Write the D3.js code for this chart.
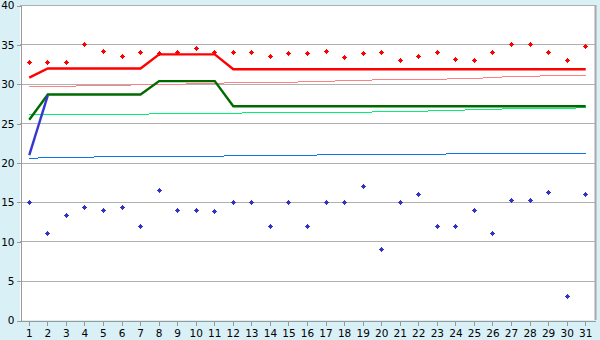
<!DOCTYPE html>
<html>
<head>
<meta charset="utf-8">
<script src="https://cdn.jsdelivr.net/npm/d3@7"></script>
<style>
    body { margin: 0; background: #d9f0f7; }
    svg { display: block; }
    .tick text { font-family: "DejaVu Sans", sans-serif; font-size: 10.5px; fill: #000; }
</style>
</head>
<body>
<div id="chart"></div>
<script>

/*
DATA
*/
const days = d3.range(1, 32);
const yTicks = [0, 5, 10, 15, 20, 25, 30, 35, 40];

// red points (top)
const highPoints = [32.8, 32.8, 32.8, 35.0, 34.2, 33.5, 34.0, 33.9, 34.0, 34.5,
    34.0, 34.0, 34.0, 33.5, 33.9, 33.9, 34.2, 33.4, 33.9, 34.0,
    33.0, 33.5, 34.0, 33.1, 33.0, 34.0, 35.0, 35.0, 34.0, 33.0, 34.8];

// blue points (bottom)
const lowPoints = [15.0, 11.0, 13.3, 14.4, 14.0, 14.4, 12.0, 16.5, 14.0, 14.0,
    13.9, 15.0, 15.0, 12.0, 15.0, 12.0, 15.0, 15.0, 17.0, 9.0,
    15.0, 16.0, 12.0, 12.0, 14.0, 11.0, 15.2, 15.2, 16.3, 3.0, 16.0];

// thick red line
const redLine = [30.85, 32.0, 32.0, 32.0, 32.0, 32.0, 32.0, 33.8, 33.8, 33.8,
    33.8, 31.9, 31.9, 31.9, 31.9, 31.9, 31.9, 31.9, 31.9, 31.9,
    31.9, 31.9, 31.9, 31.9, 31.9, 31.9, 31.9, 31.9, 31.9, 31.9, 31.9];

// thick green line
const greenLine = [25.5, 28.7, 28.7, 28.7, 28.7, 28.7, 28.7, 30.4, 30.4, 30.4,
    30.4, 27.2, 27.2, 27.2, 27.2, 27.2, 27.2, 27.2, 27.2, 27.2,
    27.2, 27.2, 27.2, 27.2, 27.2, 27.2, 27.2, 27.2, 27.2, 27.2, 27.2];

// thick blue line (first two days only)
const blueLine = [21.0, 28.6];

// thin lines
const pinkThin = [29.71, 29.71, 29.71, 29.84, 29.84, 29.84, 29.97, 29.97, 29.97, 30.1,
    30.1, 30.22, 30.22, 30.22, 30.22, 30.35, 30.35, 30.48, 30.48, 30.6,
    30.6, 30.6, 30.6, 30.73, 30.73, 30.86, 30.98, 30.98, 31.11, 31.11, 31.11];

const greenThin = [26.16, 26.16, 26.16, 26.16, 26.16, 26.16, 26.16, 26.29, 26.29, 26.29,
    26.29, 26.29, 26.41, 26.41, 26.41, 26.41, 26.41, 26.41, 26.41, 26.54,
    26.54, 26.54, 26.67, 26.67, 26.79, 26.79, 26.92, 26.92, 26.92, 26.92, 27.05];

const blueThin = [20.57, 20.7, 20.7, 20.7, 20.83, 20.83, 20.83, 20.83, 20.83, 20.83,
    20.83, 20.95, 20.95, 20.95, 20.95, 20.95, 21.08, 21.08, 21.08, 21.08,
    21.08, 21.08, 21.08, 21.21, 21.21, 21.21, 21.21, 21.21, 21.21, 21.21, 21.21];

/*
SVG
*/
const width = 600;
const height = 340;
const margin = {top: 5, left: 20, right: 5, bottom: 20};

const svg = d3.select("#chart")
    .append("svg")
    .attr("width", width)
    .attr("height", height);

svg.append("rect")
    .attr("width", width)
    .attr("height", height)
    .attr("fill", "#d9f0f7");

/*
SCALES
*/
const xScale = d3.scaleBand()
    .domain(days)
    .range([margin.left, width - margin.right])
    .padding(0);

const yScale = d3.scaleLinear()
    .domain([0, 40])
    .range([height - margin.bottom + 0.5, margin.top + 0.5]);

const xc = function(d) { return xScale(d) + xScale.bandwidth() / 2; };

// plot area
svg.append("rect")
    .attr("x", margin.left)
    .attr("y", margin.top)
    .attr("width", width - margin.right - margin.left)
    .attr("height", height - margin.bottom - margin.top)
    .attr("fill", "#ffffff");

// right border
svg.append("line")
    .attr("x1", width - margin.right + 0.5)
    .attr("x2", width - margin.right + 0.5)
    .attr("y1", margin.top)
    .attr("y2", height - margin.bottom)
    .attr("stroke", "#a8a8a8")
    .attr("stroke-width", 2);

// gridlines
svg.append("g")
    .selectAll("line")
    .data(yTicks.filter(function(d) { return d > 0; }))
    .enter()
    .append("line")
        .attr("x1", margin.left)
        .attr("x2", width - margin.right)
        .attr("y1", function(d) { return yScale(d); })
        .attr("y2", function(d) { return yScale(d); })
        .attr("stroke", "#b0b0b0")
        .attr("shape-rendering", "crispEdges");

/*
AXES
*/
const yAxis = svg.append("g")
    .attr("transform", `translate(${margin.left + 0.5},0)`)
    .call(d3.axisLeft(yScale).tickValues(yTicks).tickSize(4).tickPadding(2));

const xAxis = svg.append("g")
    .attr("transform", `translate(0,${height - margin.bottom + 0.5})`)
    .call(d3.axisBottom(xScale).tickSize(5).tickPadding(4).tickSizeOuter(0));

svg.selectAll(".domain, .tick line")
    .attr("stroke", "#999999")
    .attr("shape-rendering", "crispEdges");

/*
LINES
*/
const line = d3.line()
    .x(function(d, i) { return xc(days[i]); })
    .y(function(d) { return yScale(d); });

function drawLine(values, color, w, crisp) {
    svg.append("path")
        .datum(values)
        .attr("d", line)
        .attr("fill", "none")
        .attr("stroke", color)
        .attr("stroke-width", w)
        .attr("shape-rendering", crisp ? "crispEdges" : "auto");
}

drawLine(pinkThin, "#ff8080", 1, true);
drawLine(greenThin, "#00f078", 1, true);
drawLine(blueThin, "#0a78e6", 1, true);
drawLine(redLine, "#ff0000", 2.4, false);
drawLine(greenLine, "#006a00", 2.4, false);
drawLine(blueLine, "#3636d0", 2.4, false);

/*
POINTS
*/
// small pixel cross / diamond marker
const marker = "M-0.5,-2.5h1v1h1v1h1v1h-1v1h-1v1h-1v-1h-1v-1h-1v-1h1v-1h1z";

function drawPoints(values, color) {
    svg.append("g")
        .selectAll("path")
        .data(values)
        .enter()
        .append("path")
            .attr("d", marker)
            .attr("transform", function(d, i) {
                return `translate(${Math.floor(xc(days[i])) + 0.5},${Math.floor(yScale(d)) + 0.5})`;
            })
            .attr("fill", color)
            .attr("shape-rendering", "crispEdges");
}

drawPoints(highPoints, "#ff0000");
drawPoints(lowPoints, "#3333cc");

</script>
</body>
</html>
